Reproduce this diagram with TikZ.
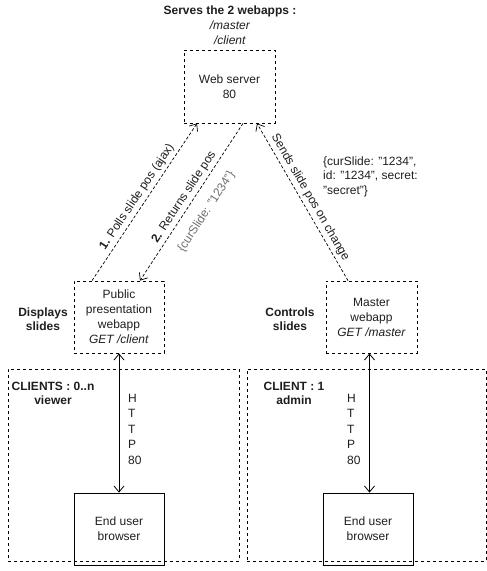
\documentclass[tikz,border=0pt]{standalone}
\usepackage{fontspec}
\setmainfont{Liberation Sans}
\usetikzlibrary{arrows.meta}
\definecolor{txt}{HTML}{1E1E1E}
\definecolor{soft}{HTML}{6E6E6E}
\begin{document}
\begin{tikzpicture}[x=1pt,y=-1pt,
  every node/.style={font=\fontsize{12}{15}\selectfont, text=txt},
  dashbox/.style={draw, line width=0.8pt, dash pattern=on 3pt off 3pt, align=center, inner sep=0pt},
  solidbox/.style={draw, line width=0.8pt, align=center, inner sep=0pt},
  groupbox/.style={draw, line width=0.8pt, dash pattern=on 3pt off 3pt, inner sep=0pt},
  dasharrow/.style={line width=0.7pt, dash pattern=on 3pt off 2pt, -{Straight Barb[length=6pt,width=10pt]}},
  httplink/.style={line width=0.8pt, {Straight Barb[length=6pt,width=10pt]}-{Straight Barb[length=6pt,width=10pt]}},
  side/.style={font=\bfseries\fontsize{12}{14}\selectfont, align=center, inner sep=0pt},
  vlabel/.style={align=left, inner sep=0pt, font=\fontsize{12}{15.5}\selectfont},
  edgelbl/.style={sloped, inner sep=3pt}
]
\useasboundingbox (0,0) rectangle (487,571);

% client groups
\node[groupbox, minimum width=231pt, minimum height=192pt] (c1) at (123.5,465) {};
\node[groupbox, minimum width=239pt, minimum height=192pt] (c2) at (366.5,465) {};
\node[side] (c1lbl) at (53,393.5) {CLIENTS : 0..n\\viewer};
\node[side] (c2lbl) at (294,393.5) {CLIENT : 1\\admin};

% server
\node[dashbox, minimum width=91pt, minimum height=73pt] (ws) at (229.5,86.5) {Web server\\80};
\node[align=center, inner sep=0pt] (serves) at (230,25)
  {\textbf{Serves the 2 webapps :}\\\textit{/master}\\\textit{/client}};

% webapps
\node[dashbox, minimum width=90pt, minimum height=72pt] (pub) at (119,317)
  {Public\\presentation\\webapp\\\textit{GET /client}};
\node[dashbox, minimum width=91pt, minimum height=72pt] (mas) at (371.5,317)
  {Master\\webapp\\\textit{GET /master}};
\node[side] (disp) at (43,319) {Displays\\slides};
\node[side] (ctrl) at (290,319) {Controls\\slides};

% browsers
\node[solidbox, minimum width=90pt, minimum height=72pt] (b1) at (119,529) {End user\\browser};
\node[solidbox, minimum width=90pt, minimum height=72pt] (b2) at (368,529) {End user\\browser};

% HTTP links
\draw[httplink] (pub.south) -- (b1.north);
\draw[httplink] ([xshift=-2]mas.south) -- ([xshift=-2]mas.south |- b2.north);
\node[vlabel, anchor=west] (h1) at (128,429) {H\\T\\T\\P\\80};
\node[vlabel, anchor=west] (h2) at (347,429) {H\\T\\T\\P\\80};

% web server traffic
\draw[dasharrow] ([xshift=-27]pub.north) --
  node[edgelbl, above] {\textbf{1.} Polls slide pos (ajax)} ([xshift=-32.5]ws.south);
\draw[dasharrow] ([xshift=13.5]ws.south) --
  node[edgelbl, above] {\textbf{2.} Returns slide pos}
  node[edgelbl, below=9pt, text=soft] {\{curSlide: "1234"\}} ([xshift=21]pub.north);
\draw[dasharrow] ([xshift=-23.5]mas.north) --
  node[edgelbl, above] {Sends slide pos on change} ([xshift=27.5]ws.south);

\node[align=left, anchor=west, inner sep=0pt, font=\fontsize{12}{14.5}\selectfont] (payload) at (323,176.5)
  {\{curSlide: "1234",\\id: "1234", secret:\\"secret"\}};
\end{tikzpicture}
\end{document}
